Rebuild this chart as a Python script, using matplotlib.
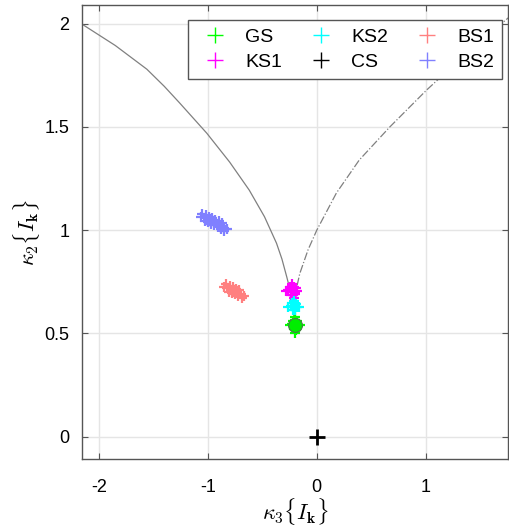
import matplotlib
matplotlib.use('Agg')
import matplotlib.pyplot as plt

plt.rcParams['font.family'] = ['Liberation Sans', 'DejaVu Sans']
plt.rcParams['mathtext.fontset'] = 'cm'

# boundary curves
solid_x = [-2.16, -1.85, -1.56, -1.40, -1.26, -1.01, -0.80, -0.62, -0.48, -0.37, -0.32, -0.275, -0.24, -0.22, -0.20]
solid_y = [2.00, 1.895, 1.78, 1.697, 1.617, 1.47, 1.33, 1.194, 1.065, 0.937, 0.86, 0.772, 0.70, 0.62, 0.54]
dash_x = [-0.20, -0.19, -0.156, -0.08, 0.00, 0.18, 0.39, 0.67, 1.01, 1.35, 1.76]
dash_y = [0.54, 0.71, 0.79, 0.905, 1.00, 1.18, 1.34, 1.50, 1.68, 1.845, 2.03]

# clusters
gs_x = [-0.25, -0.23, -0.21, -0.19, -0.17, -0.15, -0.22, -0.20, -0.18, -0.21, -0.19, -0.20, -0.20]
gs_y = [0.540, 0.545, 0.538, 0.542, 0.536, 0.540, 0.560, 0.565, 0.558, 0.520, 0.518, 0.580, 0.500]
ks1_x = [-0.28, -0.26, -0.24, -0.22, -0.20, -0.18, -0.25, -0.23, -0.21, -0.19, -0.24, -0.22, -0.20, -0.23, -0.21]
ks1_y = [0.705, 0.710, 0.700, 0.708, 0.702, 0.706, 0.725, 0.722, 0.726, 0.720, 0.688, 0.685, 0.690, 0.740, 0.672]
ks2_x = [-0.26, -0.24, -0.22, -0.20, -0.18, -0.16, -0.23, -0.21, -0.19, -0.22, -0.20, -0.21]
ks2_y = [0.630, 0.634, 0.628, 0.632, 0.627, 0.630, 0.645, 0.648, 0.643, 0.615, 0.612, 0.658]
cs_x = [0.0]
cs_y = [0.0]
bs1_x = [-0.85, -0.82, -0.79, -0.76, -0.73, -0.70, -0.67,
         -0.83, -0.80, -0.77, -0.74, -0.71,
         -0.81, -0.78, -0.75, -0.72, -0.69]
bs1_y = [0.725, 0.718, 0.711, 0.703, 0.697, 0.689, 0.682,
         0.737, 0.731, 0.724, 0.716, 0.708,
         0.702, 0.697, 0.690, 0.683, 0.673]
bs2_x = [-1.06, -1.03, -1.00, -0.97, -0.94, -0.91, -0.88, -0.85, -0.82,
         -1.05, -1.02, -0.99, -0.96, -0.93, -0.90, -0.87,
         -1.03, -1.00, -0.97, -0.94, -0.91, -0.88, -0.85]
bs2_y = [1.065, 1.057, 1.049, 1.041, 1.034, 1.026, 1.018, 1.010, 1.005,
         1.080, 1.074, 1.065, 1.059, 1.050, 1.042, 1.036,
         1.046, 1.038, 1.031, 1.025, 1.016, 1.008, 0.996]
gs_mean = (-0.20, 0.54)

fig = plt.figure(figsize=(5.09, 5.26), dpi=100)
ax = fig.add_axes([0.161, 0.127, 0.838, 0.863])

ax.plot(solid_x, solid_y, '-', color='#808080', lw=0.9)
ax.plot(dash_x, dash_y, '-.', color='#808080', lw=0.9)

ms = 7.5
mew = 1.6
ax.plot(gs_x, gs_y, '+', color='#00ff00', ms=ms, mew=mew, label='GS')
ax.plot(ks1_x, ks1_y, '+', color='#ff00ff', ms=ms, mew=mew, label='KS1')
ax.plot(ks2_x, ks2_y, '+', color='#00ffff', ms=ms, mew=mew, label='KS2')
ax.plot(cs_x, cs_y, '+', color='black', ms=11, mew=2, label='CS')
ax.plot(bs1_x, bs1_y, '+', color='#ff8080', ms=ms, mew=mew, label='BS1')
ax.plot(bs2_x, bs2_y, '+', color='#8080ff', ms=ms, mew=mew, label='BS2')
ax.plot([gs_mean[0]], [gs_mean[1]], 'o', color='#00ee00', mec='#4a7a4a', ms=10, mew=0.8)

ax.set_xlim(-2.156, 1.76)
ax.set_ylim(-0.11, 2.09)
ax.set_xticks([-2, -1, 0, 1])
ax.set_yticks([0, 0.5, 1, 1.5, 2])
ax.set_xticklabels(['-2', '-1', '0', '1'])
ax.set_yticklabels(['0', '0.5', '1', '1.5', '2'])
ax.grid(True, color='#e5e5e5', lw=1)
ax.set_axisbelow(True)
ax.tick_params(direction='in', length=4, color='#555555', labelsize=13, top=True, right=True)
ax.tick_params(axis='x', pad=14)
ax.tick_params(axis='y', pad=9)
for s in ax.spines.values():
    s.set_color('#555555')
    s.set_linewidth(1)

ax.set_xlabel(r'$\kappa_3\{I_\mathbf{k}\}$', fontsize=16, labelpad=0)
ax.set_ylabel(r'$\kappa_2\{I_\mathbf{k}\}$', fontsize=16, labelpad=2)

leg = ax.legend(ncol=3, loc='upper right', bbox_to_anchor=(0.984, 0.967), borderaxespad=0,
                fontsize=14, fancybox=False, edgecolor='#555555', framealpha=1,
                handlelength=2, handletextpad=0.55, columnspacing=1.0,
                borderpad=0.4, labelspacing=0.4)
for h in leg.legend_handles:
    h.set_markersize(11)
    h.set_markeredgewidth(1)
leg.get_frame().set_linewidth(1)

fig.savefig('out.png', dpi=100)
